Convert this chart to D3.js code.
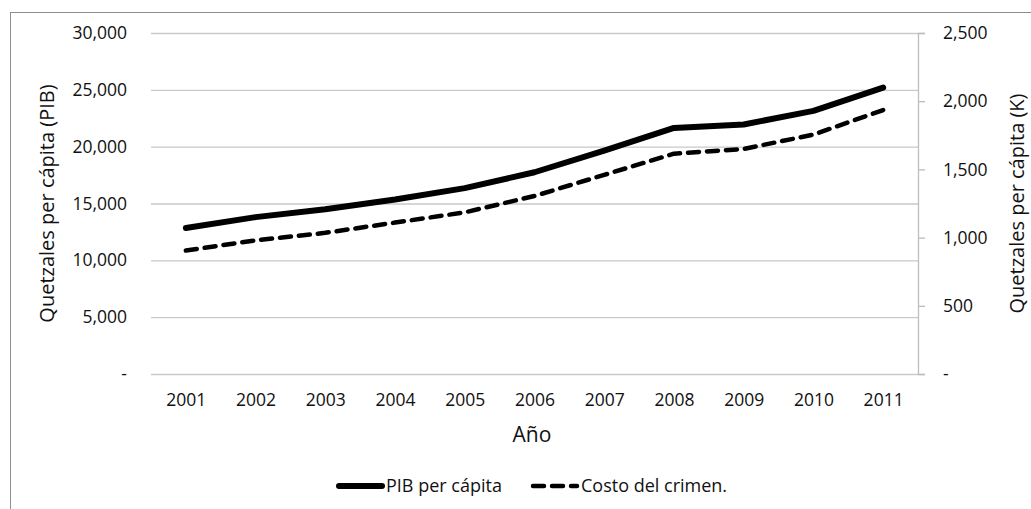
<!DOCTYPE html>
<html>
<head>
<meta charset="utf-8">
<script src="https://cdn.jsdelivr.net/npm/d3@7"></script>
<style>
  html, body { margin: 0; padding: 0; background: #fff; }
  svg { display: block; font-family: "Open Sans", "Noto Sans", sans-serif; }
</style>
</head>
<body>
<svg id="chart" width="1031" height="509"></svg>
<script>
const years = ["2001","2002","2003","2004","2005","2006","2007","2008","2009","2010","2011"];
const pibPerCapita = [12850, 13800, 14500, 15350, 16350, 17750, 19650, 21650, 21950, 23150, 25200];
const costoCrimen = [905, 980, 1035, 1110, 1185, 1305, 1460, 1615, 1650, 1755, 1935];
const leftTicks = [0, 5000, 10000, 15000, 20000, 25000, 30000];
const rightTicks = [0, 500, 1000, 1500, 2000, 2500];
const leftTitle = "Quetzales per cápita (PIB)";
const rightTitle = "Quetzales per cápita (K)";
const xTitle = "Año";
const legendLabels = ["PIB per cápita", "Costo del crimen."];

const svg = d3.select("#chart");
const plot = { left: 151, right: 918, top: 33, bottom: 374 };
const fs = 17.5;
const txt = "#111";

// outer border
svg.append("rect").attr("x", 10.5).attr("y", 12.5).attr("width", 1030).attr("height", 510)
  .attr("fill", "none").attr("stroke", "#8e8e8e").attr("stroke-width", 1);

const x = d3.scalePoint().domain(years).range([plot.left, plot.right]).padding(0.5);
const yL = d3.scaleLinear().domain([0, 30000]).range([plot.bottom, plot.top]);
const yR = d3.scaleLinear().domain([0, 2500]).range([plot.bottom, plot.top]);
const fmt = v => v === 0 ? "-" : d3.format(",")(v);

// gridlines (left axis)
const gl = svg.append("g")
  .attr("transform", `translate(${plot.left},0)`)
  .call(d3.axisLeft(yL).tickValues(leftTicks).tickSize(-(plot.right - plot.left)).tickFormat(""));
gl.select(".domain").remove();
gl.selectAll(".tick line").attr("stroke", "#c9c9c9").attr("stroke-width", 1.3);

// left tick labels
const lAx = svg.append("g")
  .attr("transform", `translate(${plot.left - 24},0)`)
  .call(d3.axisLeft(yL).tickValues(leftTicks).tickSize(0).tickPadding(0).tickFormat(fmt));
lAx.select(".domain").remove();
lAx.selectAll("text").attr("font-size", fs).attr("font-family", "Open Sans").attr("fill", txt);

// right axis
const rAx = svg.append("g")
  .attr("transform", `translate(${plot.right},0)`)
  .call(d3.axisRight(yR).tickValues(rightTicks).tickSize(7).tickPadding(18).tickFormat(fmt));
rAx.select(".domain").attr("stroke", "#bdbdbd").attr("stroke-width", 1.3);
rAx.selectAll(".tick line").attr("stroke", "#bdbdbd").attr("stroke-width", 1.3);
rAx.selectAll("text").attr("font-size", fs).attr("font-family", "Open Sans").attr("fill", txt);

// x axis labels
const xAx = svg.append("g")
  .attr("transform", `translate(0,${plot.bottom})`)
  .call(d3.axisBottom(x).tickSize(0).tickPadding(20));
xAx.select(".domain").remove();
xAx.selectAll("text").attr("font-size", fs).attr("font-family", "Open Sans").attr("fill", txt);

// titles
svg.append("text").attr("x", 532).attr("y", 442).attr("text-anchor", "middle")
  .attr("font-size", 21).attr("fill", txt).text(xTitle);
svg.append("text").attr("transform", `translate(54,${(plot.top + plot.bottom) / 2}) rotate(-90)`)
  .attr("text-anchor", "middle").attr("font-size", 20).attr("fill", txt).text(leftTitle);
svg.append("text").attr("transform", `translate(1024,${(plot.top + plot.bottom) / 2}) rotate(-90)`)
  .attr("text-anchor", "middle").attr("font-size", 20).attr("fill", txt).text(rightTitle);

// lines
const linePib = d3.line().x((d, i) => x(years[i])).y(d => yL(d));
const lineCrim = d3.line().x((d, i) => x(years[i])).y(d => yR(d));
svg.append("path").datum(pibPerCapita).attr("d", linePib)
  .attr("fill", "none").attr("stroke", "#000").attr("stroke-width", 6)
  .attr("stroke-linecap", "round").attr("stroke-linejoin", "round");
svg.append("path").datum(costoCrimen).attr("d", lineCrim)
  .attr("fill", "none").attr("stroke", "#000").attr("stroke-width", 4.5)
  .attr("stroke-dasharray", "11 8").attr("stroke-linecap", "round").attr("stroke-linejoin", "round");

// legend
const lg = svg.append("g");
lg.append("line").attr("x1", 339).attr("x2", 382).attr("y1", 486).attr("y2", 486)
  .attr("stroke", "#000").attr("stroke-width", 6).attr("stroke-linecap", "round");
lg.append("text").attr("x", 386).attr("y", 492).attr("font-size", 18).attr("fill", txt).text(legendLabels[0]);
lg.append("line").attr("x1", 533).attr("x2", 577).attr("y1", 486).attr("y2", 486)
  .attr("stroke", "#000").attr("stroke-width", 4.5).attr("stroke-dasharray", "11 8").attr("stroke-linecap", "round");
lg.append("text").attr("x", 581).attr("y", 492).attr("font-size", 18).attr("fill", txt).text(legendLabels[1]);
</script>
</body>
</html>
